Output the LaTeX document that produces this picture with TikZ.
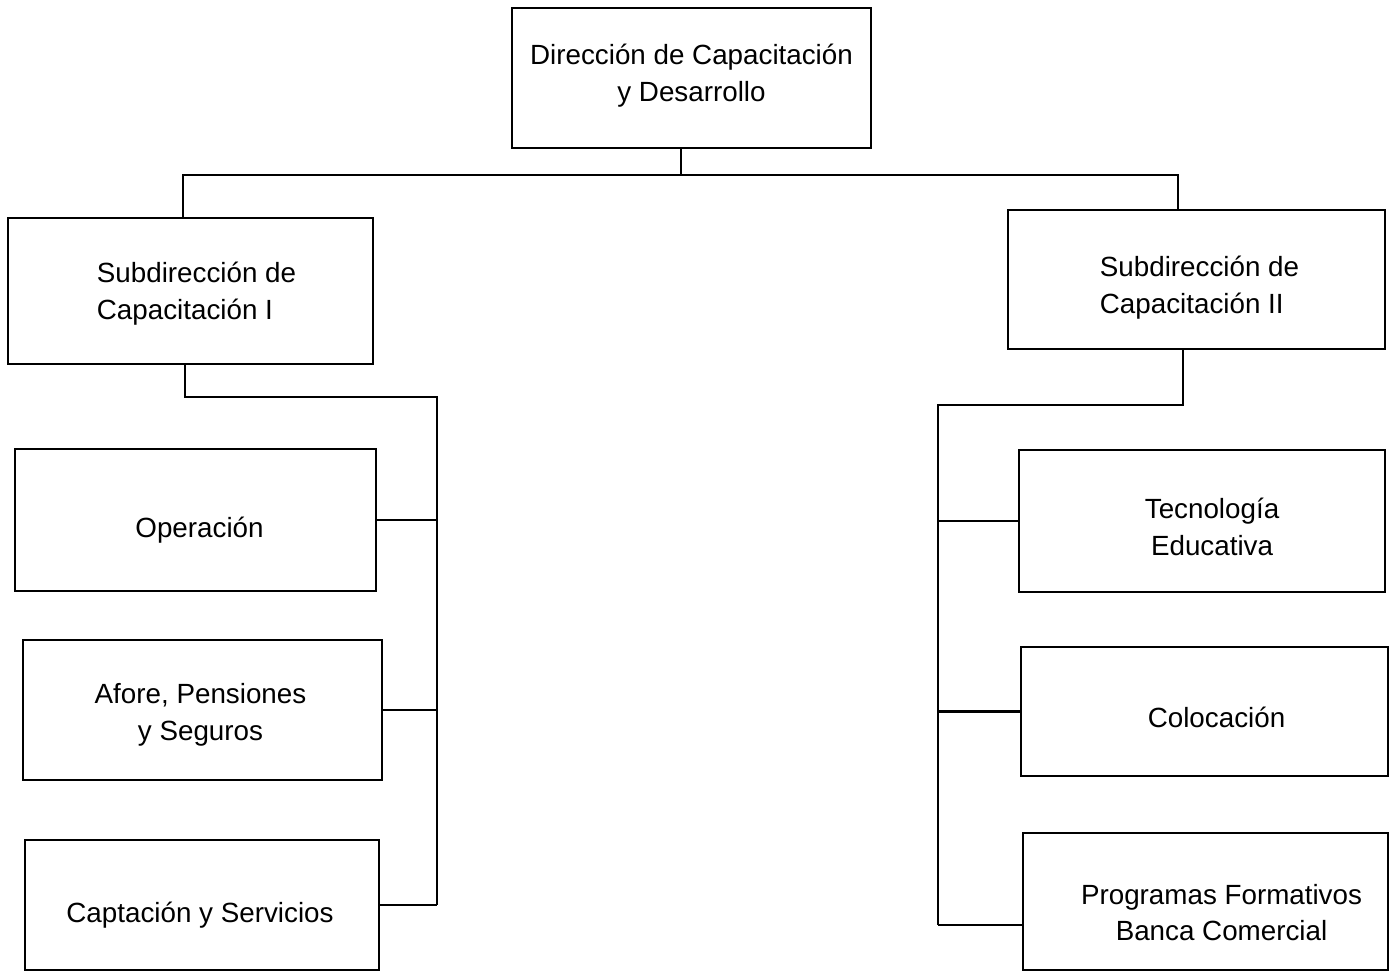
\documentclass[tikz,border=0pt]{standalone}
\usepackage{fontspec}
\setmainfont{Liberation Sans}
\begin{document}
\begin{tikzpicture}[x=0.01cm,y=-0.01cm,
  box/.style={draw,line width=0.6pt,inner sep=0pt},
  lbl/.style={inner sep=0pt,align=center,font=\fontsize{7.9}{10.5}\selectfont},
  txt/.style n args={3}{label={[lbl,xshift=#1,yshift=#2]center:{#3}}},
  ltxt/.style n args={3}{label={[lbl,align=left,xshift=#1,yshift=#2]center:{#3}}},
  conn/.style={line width=0.6pt}]
\useasboundingbox (0,0) rectangle (1389,975);
\node[box,minimum width=3.59cm,minimum height=1.40cm,
  txt={0cm}{0.02cm}{Dirección de Capacitación\\y Desarrollo}] (top) at (691.5,78) {};
\node[box,minimum width=3.65cm,minimum height=1.46cm,
  ltxt={0.06cm}{-0.03cm}{Subdirección de\\Capacitación I}] (s1) at (190.5,291) {};
\node[box,minimum width=3.77cm,minimum height=1.39cm,
  ltxt={0.03cm}{-0.08cm}{Subdirección de\\Capacitación II}] (s2) at (1196.5,279.5) {};
\node[box,minimum width=3.61cm,minimum height=1.42cm,
  txt={0.04cm}{-0.10cm}{Operación}] (op) at (195.5,520) {};
\node[box,minimum width=3.59cm,minimum height=1.40cm,
  txt={-0.02cm}{-0.05cm}{Afore, Pensiones\\y Seguros}] (af) at (202.5,710) {};
\node[box,minimum width=3.54cm,minimum height=1.30cm,
  txt={-0.02cm}{-0.10cm}{Captación y Servicios}] (cap) at (202,905) {};
\node[box,minimum width=3.66cm,minimum height=1.42cm,
  txt={0.10cm}{-0.055cm}{Tecnología\\Educativa}] (tec) at (1202,521) {};
\node[box,minimum width=3.67cm,minimum height=1.29cm,
  txt={0.12cm}{-0.06cm}{Colocación}] (col) at (1204.5,711.5) {};
\node[box,minimum width=3.65cm,minimum height=1.37cm,
  txt={0.16cm}{-0.11cm}{Programas Formativos\\Banca Comercial}] (prog) at (1205.5,901.5) {};
% top connectors
\coordinate (tb) at (681,175);
\coordinate (tl) at (183,175);
\coordinate (tr) at (1178,175);
\draw[conn] (tb |- top.south) -- (tb);
\draw[conn] (tl |- s1.north) -- (tl) -- (tr) -- (tr |- s2.north);
% left group
\coordinate (l1) at (185,397);
\coordinate (lb) at (437,397);
\draw[conn] (l1 |- s1.south) -- (l1) -- (lb) -- (lb |- cap.east);
\draw[conn] (op.east) -- (op.east -| lb);
\draw[conn] (af.east) -- (af.east -| lb);
\draw[conn] (cap.east) -- (cap.east -| lb);
% right group
\coordinate (r1) at (1183,405);
\coordinate (rb) at (938,405);
\coordinate (pj) at (938,925);
\draw[conn] (r1 |- s2.south) -- (r1) -- (rb) -- (pj);
\draw[conn] (tec.west) -- (tec.west -| rb);
\draw[conn] (col.west) -- (col.west -| rb);
\draw[conn] (pj) -- (pj -| prog.west);
\end{tikzpicture}
\end{document}
